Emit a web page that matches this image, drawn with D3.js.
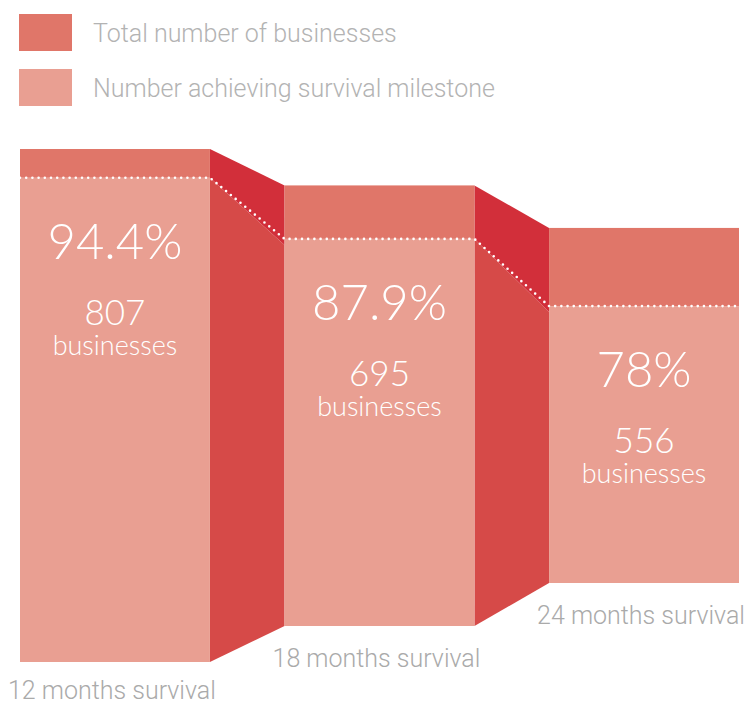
<!DOCTYPE html>
<html>
<head>
<meta charset="utf-8">
<script src="https://cdn.jsdelivr.net/npm/d3@7"></script>
<style>
  html, body { margin: 0; padding: 0; background: #fff; }
  svg { display: block; }
</style>
</head>
<body>
<svg id="chart" width="747" height="706"></svg>
<script>
// ---- data ----
const categories = ["12 months survival", "18 months survival", "24 months survival"];
const totals     = [855, 791, 713];
const survivors  = [807, 695, 556];
const pctLabels  = ["94.4%", "87.9%", "78%"];
const legendLabels = ["Total number of businesses", "Number achieving survival milestone"];

// ---- layout / style ----
const H = 706;
const colTotal = "#e07669", colSurv = "#e99f92", colDark = "#d22f3a", colMid = "#d64a48";
const baselines = [662, 626, 583];        // perspective floor per bar
const depthScale = [0.600, 0.557, 0.498]; // px per business (perspective)

const svg = d3.select("#chart");

const x = d3.scaleBand().domain(categories).range([20, 739]).paddingInner(0.282).paddingOuter(0);
const bw = x.bandwidth();
const yScales = categories.map((c, i) =>
  d3.scaleLinear().domain([0, 1000]).range([baselines[i], baselines[i] - 1000 * depthScale[i]]));

const bars = categories.map((c, i) => ({
  i, c,
  x0: x(c), x1: x(c) + bw,
  yBottom: yScales[i](0),
  yTotal: yScales[i](totals[i]),
  ySurv: yScales[i](survivors[i])
}));

// connectors
for (let i = 0; i < bars.length - 1; i++) {
  const a = bars[i], b = bars[i + 1];
  svg.append("path")
    .attr("d", `M${a.x1},${a.ySurv}L${b.x0},${b.ySurv + 6}L${b.x0},${b.yBottom}L${a.x1},${a.yBottom}Z`)
    .attr("fill", colMid);
  svg.append("path")
    .attr("d", `M${a.x1},${a.yTotal}L${b.x0},${b.yTotal}L${b.x0},${b.ySurv + 6}L${a.x1},${a.ySurv}Z`)
    .attr("fill", colDark);
}

// bars
const g = svg.selectAll("g.bar").data(bars).join("g").attr("class", "bar");
g.append("rect").attr("x", d => d.x0).attr("width", bw)
  .attr("y", d => d.yTotal).attr("height", d => d.ySurv - d.yTotal).attr("fill", colTotal);
g.append("rect").attr("x", d => d.x0).attr("width", bw)
  .attr("y", d => d.ySurv).attr("height", d => d.yBottom - d.ySurv).attr("fill", colSurv);

// dotted line
const pts = [];
bars.forEach(d => { pts.push([d.x0, d.ySurv]); pts.push([d.x1, d.ySurv]); });
svg.append("path").attr("d", d3.line()(pts))
  .attr("fill", "none").attr("stroke", "#fff").attr("stroke-width", 2.6)
  .attr("stroke-linecap", "round").attr("stroke-dasharray", "0 6.2");

// inner text
const innerFont = "Lato, 'Open Sans', sans-serif";
g.append("text").attr("x", d => d.x0 + bw / 2).attr("y", d => d.ySurv + 81)
  .attr("text-anchor", "middle").attr("fill", "#fff")
  .style("font-family", innerFont).style("font-weight", 300).style("font-size", "49px")
  .text(d => pctLabels[d.i]);
g.append("text").attr("x", d => d.x0 + bw / 2).attr("y", d => d.ySurv + 147)
  .attr("text-anchor", "middle").attr("fill", "#fff")
  .style("font-family", innerFont).style("font-weight", 300).style("font-size", "35px")
  .text(d => survivors[d.i]);
g.append("text").attr("x", d => d.x0 + bw / 2).attr("y", d => d.ySurv + 177)
  .attr("text-anchor", "middle").attr("fill", "#fff")
  .style("font-family", innerFont).style("font-weight", 300).style("font-size", "27px")
  .text("businesses");

// category labels
g.append("text").attr("x", d => d.x0 - 12).attr("y", d => Math.min(d.yBottom + 41, H - 7))
  .attr("fill", "#aaaaaa")
  .style("font-family", "Roboto, sans-serif").style("font-weight", 300).style("font-size", "25px")
  .text(d => d.c);

// legend
const leg = svg.selectAll("g.leg").data(legendLabels).join("g").attr("class", "leg")
  .attr("transform", (d, i) => `translate(19,${14 + i * 55})`);
leg.append("rect").attr("width", 53).attr("height", 37).attr("fill", (d, i) => i === 0 ? colTotal : colSurv);
leg.append("text").attr("x", 74).attr("y", 28).attr("fill", "#b3b3b3")
  .style("font-family", "Roboto, sans-serif").style("font-weight", 300).style("font-size", "25px")
  .text(d => d);
</script>
</body>
</html>
